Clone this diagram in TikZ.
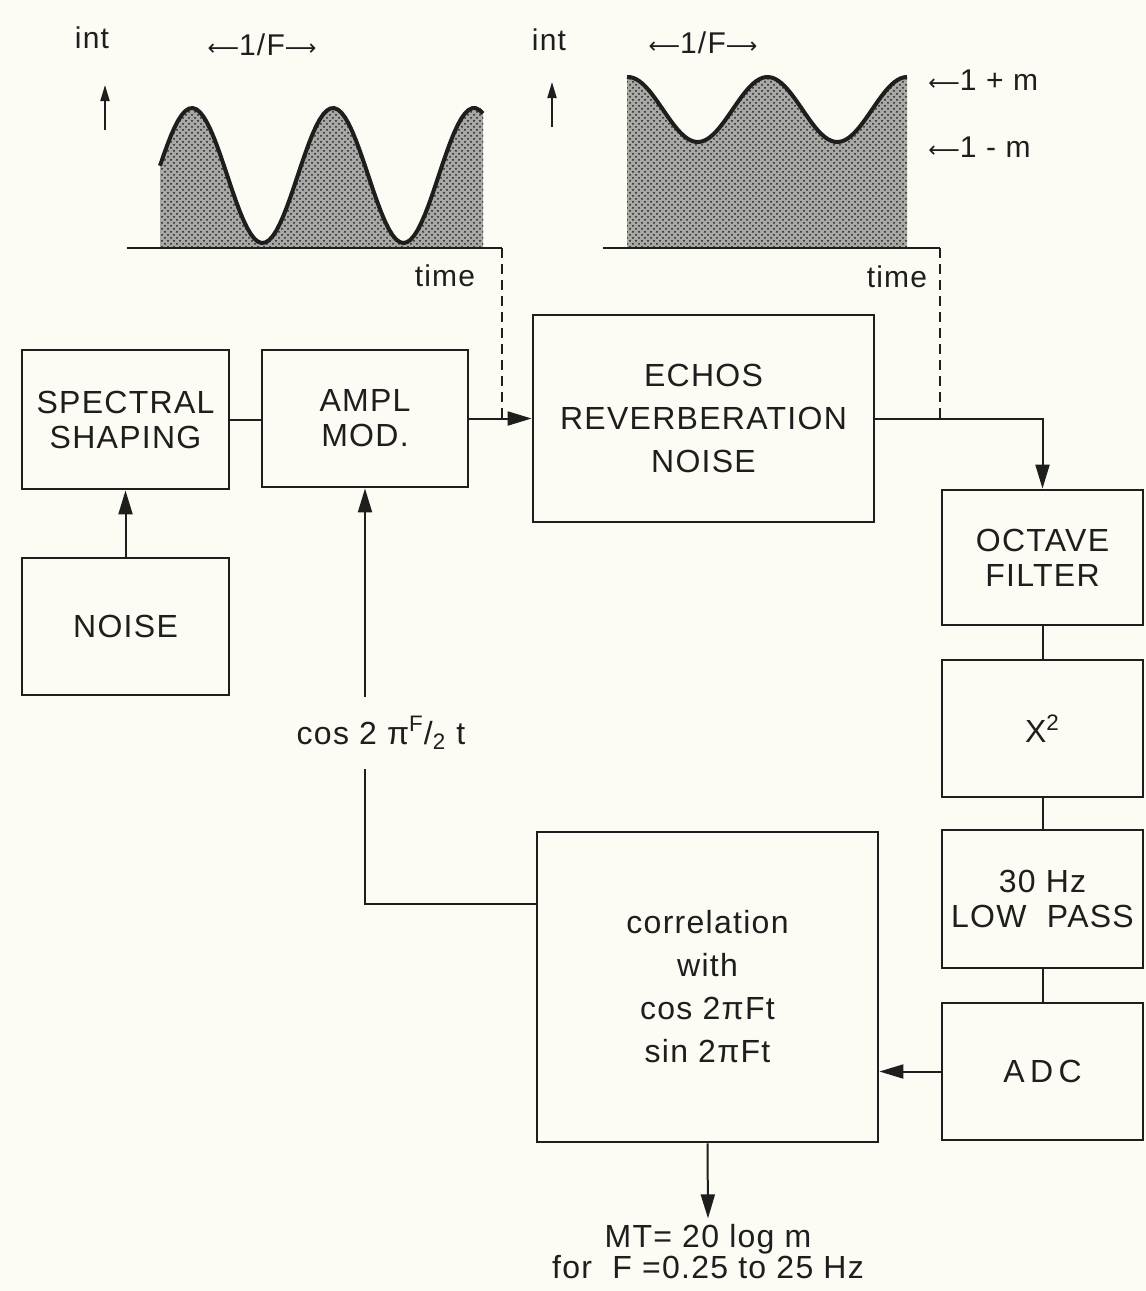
\documentclass[tikz,border=0pt]{standalone}
\usepackage{fontspec}
\setmainfont[LetterSpace=4]{Liberation Sans}
\newfontfamily\arrowfont{DejaVu Sans}
\newcommand\larr{{\arrowfont\fontsize{11}{12}\selectfont ⟵}}
\newcommand\rarr{{\arrowfont\fontsize{11}{12}\selectfont ⟶}}
\usetikzlibrary{arrows.meta,calc,patterns}
\definecolor{paper}{HTML}{FCFBF4}
\definecolor{ink}{HTML}{1E1E1E}
\definecolor{shade}{HTML}{A8A8A4}

\begin{document}
\begin{tikzpicture}[x=0.5pt,y=-0.5pt,
  blk/.style={draw=ink,line width=1.4pt,inner sep=2pt,align=center,text=ink,font=\fontsize{16}{17.5}\selectfont},
  tall/.style={font=\fontsize{16}{21.5}\selectfont},
  wire/.style={draw=ink,line width=1pt},
  tip/.style={-{Triangle[length=12pt,width=7pt]}},
  smalltip/.style={-{Triangle[length=8pt,width=4.5pt]}},
  lbl/.style={inner sep=0pt,text=ink,font=\fontsize{15}{17}\selectfont},
  stipple/.style={fill=shade,postaction={pattern=crosshatch dots,pattern color=ink}}]
  \useasboundingbox[fill=paper] (0,0) rectangle (1146,1291);

  % Panel 1: fully modulated intensity
  \path[stipple] (160,248) -- plot[domain=160:483,samples=90] (\x,{175.5-67.5*cos(2.5532*(\x-192))}) -- (483,248) -- cycle;
  \draw[ink,line width=2pt] plot[domain=160:483,samples=90] (\x,{175.5-67.5*cos(2.5532*(\x-192))});
  \draw[ink,line width=1.4pt] (127,248) -- (502,248);
  \coordinate (tend1) at (502,248);
  \draw[wire,smalltip] (105,130) -- (105,85);
  \node[lbl] (int1) at (92,38) {int};
  \node[lbl] (per1) at (262,45) {\larr1/F\rarr};
  \node[lbl] (time1) at (445,276) {time};

  % Panel 2: partly modulated intensity
  \path[stipple] (627,248) -- plot[domain=627:907,samples=90] (\x,{109.5-32.5*cos(2.5806*(\x-628))}) -- (907,248) -- cycle;
  \draw[ink,line width=2pt] plot[domain=627:907,samples=90] (\x,{109.5-32.5*cos(2.5806*(\x-628))});
  \draw[ink,line width=1.4pt] (603,248) -- (940,248);
  \coordinate (tend2) at (940,248);
  \draw[wire,smalltip] (552,127) -- (552,82);
  \node[lbl] (int2) at (549,40) {int};
  \node[lbl] (per2) at (703,43) {\larr1/F\rarr};
  \node[lbl] (time2) at (897,277) {time};
  \node[lbl,anchor=west] (maxm) at (928,80) {\larr1 + m};
  \node[lbl,anchor=west] (minm) at (928,147) {\larr1 - m};

  % Blocks
  \node[blk,minimum width=103.5pt,minimum height=69.5pt] (spec) at (125.5,419.5) {SPECTRAL\\SHAPING};
  \node[blk,minimum width=103pt,minimum height=68.5pt] (ampl) at (365,418.5) {AMPL\\MOD.};
  \node[blk,minimum width=103.5pt,minimum height=68.5pt] (noise) at (125.5,626.5) {NOISE};
  \node[blk,tall,minimum width=170.5pt,minimum height=103.5pt] (echo) at (703.5,418.5) {ECHOS\\REVERBERATION\\NOISE};
  \node[blk,minimum width=100.5pt,minimum height=67.5pt] (octave) at (1042.5,557.5) {OCTAVE\\FILTER};
  \node[blk,minimum width=100.5pt,minimum height=68.5pt] (square) at (1042.5,728.5) {X\textsuperscript{2}};
  \node[blk,minimum width=100.5pt,minimum height=69pt] (lowpass) at (1042.5,899) {30 Hz\\LOW\ \ PASS};
  \node[blk,minimum width=100.5pt,minimum height=68.5pt] (adc) at (1042.5,1071.5) {A\,D\,C};
  \node[blk,tall,minimum width=170.5pt,minimum height=155pt] (corr) at (707.5,987) {correlation\\with\\cos 2πFt\\sin 2πFt};
  \node[lbl,font=\fontsize{16}{18}\selectfont,minimum height=36pt] (cosin) at (381,733) {cos 2 π\textsuperscript{F}/\textsubscript{2} t};
  \node[lbl,align=center,inner sep=3pt,font=\fontsize{16}{15.5}\selectfont] (result) at (708,1252) {MT= 20 log m\\for\ \ F =0.25 to 25 Hz};

  % Connections
  \draw[wire] (spec.east) -- (spec.east -| ampl.west);
  \draw[wire,tip] (noise.north) -- (spec.south);
  \draw[wire,tip] (ampl.east) -- (echo.west);
  \draw[wire,tip] (echo.east) -| (octave.north);
  \draw[wire] (octave.south) -- (square.north);
  \draw[wire] (square.south) -- (lowpass.north);
  \draw[wire] (lowpass.south) -- (adc.north);
  \draw[wire,tip] (adc.west) -- (adc.west -| corr.east);
  \coordinate (fb) at ($(corr.north west)!0.235!(corr.south west)$);
  \draw[wire] (fb) -| (ampl.south |- cosin.south);
  \draw[wire,tip] (ampl.south |- cosin.north) -- (ampl.south);
  \draw[wire,tip] (corr.south) -- (result.north);
  \draw[wire,dashed,dash pattern=on 5pt off 3pt] (tend1) -- (tend1 |- ampl.east);
  \draw[wire,dashed,dash pattern=on 5pt off 3pt] (tend2) -- (tend2 |- echo.east);
\end{tikzpicture}
\end{document}
